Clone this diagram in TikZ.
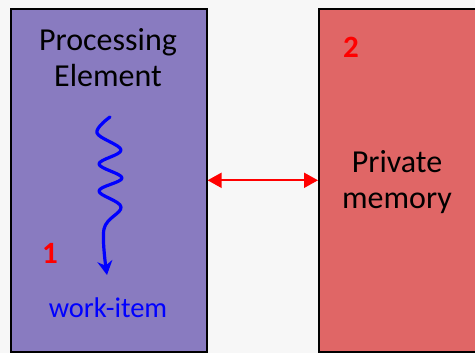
\documentclass[tikz,border=0pt]{standalone}
\usepackage{fontspec}
\setmainfont{Carlito}
\usetikzlibrary{arrows.meta,positioning}
\definecolor{bgcol}   {RGB}{247,247,247}
\definecolor{pefill}  {RGB}{137,123,192}
\definecolor{memfill} {RGB}{224,102,102}
\tikzset{
  %% Tall boxes for the processing element and its memory
  unitbox/.style={
    draw=black, line width=1.6pt, inner sep=0pt, anchor=north west
  },
  boxlabel/.style={font=\fontsize{32}{36}\selectfont, align=center, text=black},
  marker/.style={font=\fontsize{31}{36}\selectfont\bfseries, text=red, anchor=base},
  itemlabel/.style={font=\fontsize{28.5}{32}\selectfont, text=blue, anchor=base},
  %% Two-headed link between the boxes
  link/.style={
    draw=red, line width=2pt,
    {Triangle[length=14pt,width=15pt]}-{Triangle[length=14pt,width=15pt]}
  },
  %% Wavy work-item thread
  thread/.style={
    draw=blue, line width=3.2pt, line cap=round, line join=round,
    -{Stealth[length=14pt,width=15pt]}
  },
}

\begin{document}
\begin{tikzpicture}[x=1pt, y=-1pt]

  %% ── Layout constants ──────────────────────────────────────────────
  \def\PX{10}     % left box x-origin
  \def\PW{196}    % left box width
  \def\MX{318}    % right box x-origin
  \def\BY{8}      % top of both boxes
  \def\BH{343}    % box height

  \fill[bgcol] (0,0) rectangle (475,353);
  \useasboundingbox (0,0) rectangle (475,353);
  \clip (0,0) rectangle (475,353);

  %% ══════════════════════════════════════════════════════════════════
  %%  PROCESSING ELEMENT
  %% ══════════════════════════════════════════════════════════════════
  \node[unitbox, fill=pefill, minimum width=\PW pt, minimum height=\BH pt]
        (pe) at (\PX,\BY) {};
  \node[boxlabel] (petitle) at (108,58) {Processing\\Element};

  \draw[thread] plot[smooth, tension=0.6] coordinates {
    (110,117) (97,133) (121,150) (99,164) (122,178)
    (99,191) (121,207) (104,229) (107,275)
  };

  \node[marker]    (one)  at (50,263)  {1};
  \node[itemlabel] (item) at (108,318) {work-item};

  %% ══════════════════════════════════════════════════════════════════
  %%  PRIVATE MEMORY
  %% ══════════════════════════════════════════════════════════════════
  \node[unitbox, fill=memfill, minimum width=170pt, minimum height=\BH pt]
        (mem) at (\MX,\BY) {};
  \node[boxlabel] (memtitle) at (397,182) {Private\\memory};
  \node[marker]   (two) at (351,58) {2};

  %% Link
  \draw[link] (pe.east) -- (mem.west);

\end{tikzpicture}
\end{document}
